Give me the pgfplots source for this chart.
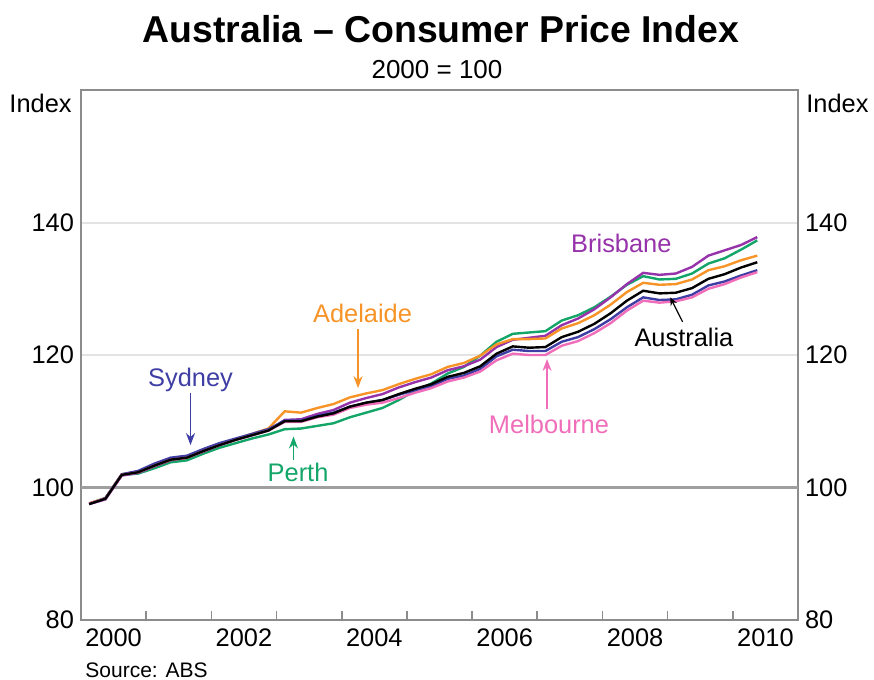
\documentclass[border=0pt]{standalone}
\usepackage{pgfplots}
\pgfplotsset{compat=1.18}
\usepackage{fontspec}
\setmainfont{Liberation Sans}
\usetikzlibrary{arrows.meta}

\definecolor{syd}{RGB}{62,62,165}
\definecolor{mel}{RGB}{240,110,185}
\definecolor{bri}{RGB}{150,50,170}
\definecolor{per}{RGB}{20,165,105}
\definecolor{ade}{RGB}{247,148,40}
\definecolor{frame}{RGB}{140,140,140}

\newcommand{\lab}{\fontsize{12.7pt}{14pt}\selectfont}

\begin{document}
\begin{tikzpicture}[x=1pt,y=1pt]
\useasboundingbox (-40.5,-30) rectangle (396.5,310);

\begin{axis}[
    at={(0,0)}, anchor=south west,
    scale only axis, width=358.5pt, height=265pt,
    xmin=2000, xmax=2011,
    ymin=80, ymax=160,
    /pgf/number format/assume math mode=true,
    axis line style={frame, line width=1pt},
    xtick={2001,...,2010},
    xticklabels={},
    xtick pos=bottom,
    tick align=inside,
    major tick length=4.5pt,
    x tick style={frame, line width=0.8pt},
    extra x ticks={2000.5,2002.5,2004.5,2006.5,2008.5,2010.5},
    extra x tick labels={2000,2002,2004,2006,2008,2010},
    extra x tick style={major tick length=0pt},
    xticklabel style={font=\lab, yshift=-1pt},
    ytick={80,100,120,140},
    y tick style={draw=none},
    yticklabel pos=left,
    yticklabel style={font=\lab},
    ymajorgrids,
    grid style={gray!22, line width=1pt},
    every axis plot/.append style={line width=1.2pt, mark=none},
]
\draw[gray!75, line width=1.3pt] (axis cs:2000,100) -- (axis cs:2011,100);

% Perth
\addplot[per] coordinates {
(2000.125,97.6)(2000.375,98.4)(2000.625,101.9)(2000.875,102.1)
(2001.125,102.9)(2001.375,103.8)(2001.625,104.1)(2001.875,105.1)
(2002.125,106.0)(2002.375,106.7)(2002.625,107.4)(2002.875,108.0)
(2003.125,108.8)(2003.375,108.9)(2003.625,109.3)(2003.875,109.7)
(2004.125,110.6)(2004.375,111.3)(2004.625,112.0)(2004.875,113.2)
(2005.125,114.6)(2005.375,115.7)(2005.625,117.2)(2005.875,118.2)
(2006.125,119.9)(2006.375,122.0)(2006.625,123.2)(2006.875,123.4)
(2007.125,123.6)(2007.375,125.2)(2007.625,126.0)(2007.875,127.2)
(2008.125,128.8)(2008.375,130.6)(2008.625,131.9)(2008.875,131.4)
(2009.125,131.5)(2009.375,132.3)(2009.625,133.8)(2009.875,134.6)
(2010.125,135.9)(2010.375,137.3)
};
% Brisbane
\addplot[bri] coordinates {
(2000.125,97.5)(2000.375,98.2)(2000.625,101.8)(2000.875,102.2)
(2001.125,103.2)(2001.375,104.1)(2001.625,104.5)(2001.875,105.4)
(2002.125,106.4)(2002.375,107.2)(2002.625,107.9)(2002.875,108.6)
(2003.125,110.2)(2003.375,110.3)(2003.625,111.1)(2003.875,111.7)
(2004.125,112.8)(2004.375,113.5)(2004.625,114.1)(2004.875,115.1)
(2005.125,115.9)(2005.375,116.6)(2005.625,117.7)(2005.875,118.3)
(2006.125,119.3)(2006.375,121.2)(2006.625,122.3)(2006.875,122.6)
(2007.125,122.9)(2007.375,124.5)(2007.625,125.5)(2007.875,126.9)
(2008.125,128.7)(2008.375,130.7)(2008.625,132.4)(2008.875,132.1)
(2009.125,132.3)(2009.375,133.3)(2009.625,135.0)(2009.875,135.8)
(2010.125,136.6)(2010.375,137.8)
};
% Adelaide
\addplot[ade] coordinates {
(2000.125,97.6)(2000.375,98.4)(2000.625,102.0)(2000.875,102.3)
(2001.125,103.3)(2001.375,104.2)(2001.625,104.5)(2001.875,105.5)
(2002.125,106.5)(2002.375,107.3)(2002.625,108.1)(2002.875,108.9)
(2003.125,111.5)(2003.375,111.3)(2003.625,112.0)(2003.875,112.6)
(2004.125,113.6)(2004.375,114.2)(2004.625,114.7)(2004.875,115.6)
(2005.125,116.4)(2005.375,117.1)(2005.625,118.2)(2005.875,118.8)
(2006.125,119.9)(2006.375,121.6)(2006.625,122.4)(2006.875,122.4)
(2007.125,122.5)(2007.375,124.0)(2007.625,124.8)(2007.875,126.0)
(2008.125,127.6)(2008.375,129.5)(2008.625,130.9)(2008.875,130.6)
(2009.125,130.7)(2009.375,131.4)(2009.625,132.8)(2009.875,133.4)
(2010.125,134.3)(2010.375,135.0)
};
% Sydney
\addplot[syd] coordinates {
(2000.125,97.5)(2000.375,98.4)(2000.625,102.0)(2000.875,102.5)
(2001.125,103.6)(2001.375,104.5)(2001.625,104.8)(2001.875,105.8)
(2002.125,106.7)(2002.375,107.4)(2002.625,108.1)(2002.875,108.8)
(2003.125,110.1)(2003.375,110.1)(2003.625,110.8)(2003.875,111.3)
(2004.125,112.2)(2004.375,112.8)(2004.625,113.2)(2004.875,114.0)
(2005.125,114.7)(2005.375,115.3)(2005.625,116.4)(2005.875,116.9)
(2006.125,117.9)(2006.375,119.8)(2006.625,120.8)(2006.875,120.6)
(2007.125,120.6)(2007.375,122.0)(2007.625,122.7)(2007.875,123.9)
(2008.125,125.4)(2008.375,127.2)(2008.625,128.7)(2008.875,128.3)
(2009.125,128.4)(2009.375,129.1)(2009.625,130.5)(2009.875,131.1)
(2010.125,132.0)(2010.375,132.8)
};
% Melbourne
\addplot[mel] coordinates {
(2000.125,97.6)(2000.375,98.3)(2000.625,101.9)(2000.875,102.3)
(2001.125,103.3)(2001.375,104.2)(2001.625,104.5)(2001.875,105.5)
(2002.125,106.4)(2002.375,107.2)(2002.625,107.9)(2002.875,108.6)
(2003.125,109.9)(2003.375,109.9)(2003.625,110.6)(2003.875,111.0)
(2004.125,112.0)(2004.375,112.5)(2004.625,112.8)(2004.875,113.5)
(2005.125,114.3)(2005.375,115.0)(2005.625,116.0)(2005.875,116.6)
(2006.125,117.5)(2006.375,119.2)(2006.625,120.2)(2006.875,120.0)
(2007.125,120.0)(2007.375,121.4)(2007.625,122.1)(2007.875,123.3)
(2008.125,124.8)(2008.375,126.7)(2008.625,128.2)(2008.875,127.9)
(2009.125,128.1)(2009.375,128.7)(2009.625,130.0)(2009.875,130.7)
(2010.125,131.7)(2010.375,132.5)
};
% Australia
\addplot[black] coordinates {
(2000.125,97.5)(2000.375,98.3)(2000.625,101.9)(2000.875,102.3)
(2001.125,103.3)(2001.375,104.2)(2001.625,104.5)(2001.875,105.5)
(2002.125,106.4)(2002.375,107.2)(2002.625,107.9)(2002.875,108.6)
(2003.125,110.0)(2003.375,110.0)(2003.625,110.7)(2003.875,111.2)
(2004.125,112.2)(2004.375,112.8)(2004.625,113.2)(2004.875,114.1)
(2005.125,114.9)(2005.375,115.6)(2005.625,116.7)(2005.875,117.3)
(2006.125,118.3)(2006.375,120.2)(2006.625,121.3)(2006.875,121.1)
(2007.125,121.2)(2007.375,122.7)(2007.625,123.5)(2007.875,124.7)
(2008.125,126.3)(2008.375,128.2)(2008.625,129.7)(2008.875,129.3)
(2009.125,129.4)(2009.375,130.1)(2009.625,131.5)(2009.875,132.2)
(2010.125,133.2)(2010.375,134.0)
};

% labels and arrows
\tikzset{arr/.style={line width=0.7pt, -{Stealth[length=6pt,width=4.5pt]}}}
\node[syd, font=\lab] at (axis cs:2001.68,116.3) {Sydney};
\draw[syd, arr] (axis cs:2001.68,114.2) -- (axis cs:2001.68,106.4);
\node[ade, font=\lab] at (axis cs:2004.32,126.3) {Adelaide};
\draw[ade, arr] (axis cs:2004.25,124.0) -- (axis cs:2004.25,115.0);
\node[per, font=\lab] at (axis cs:2003.33,102.3) {Perth};
\draw[per, arr] (axis cs:2003.26,104.1) -- (axis cs:2003.26,107.7);
\node[mel, font=\lab] at (axis cs:2007.18,109.5) {Melbourne};
\draw[mel, arr] (axis cs:2007.15,111.9) -- (axis cs:2007.15,119.4);
\node[bri, font=\lab] at (axis cs:2008.29,136.8) {Brisbane};
\node[black, font=\lab] at (axis cs:2009.25,122.7) {Australia};
\draw[black, line width=0.6pt, -{Stealth[length=4pt,width=3.5pt]}] (axis cs:2009.23,125.0) -- (axis cs:2009.04,128.7);
\end{axis}

\begin{axis}[
    at={(0,0)}, anchor=south west,
    scale only axis, width=358.5pt, height=265pt,
    xmin=2000, xmax=2011,
    ymin=80, ymax=160,
    /pgf/number format/assume math mode=true,
    hide x axis,
    axis y line*=right,
    axis line style={draw=none},
    ytick={80,100,120,140},
    y tick style={draw=none},
    yticklabel style={font=\lab},
]
\end{axis}

\node[font=\fontsize{18.7pt}{21pt}\selectfont\bfseries] at (180,295.5) {Australia -- Consumer Price Index};
\node[font=\fontsize{13pt}{15pt}\selectfont] at (178,275) {2000 = 100};
\node[font=\lab, anchor=east, inner sep=0pt] at (-4.5,258.5) {Index};
\node[font=\lab, anchor=west, inner sep=0pt] at (362.5,258.5) {Index};
\node[font=\fontsize{10.5pt}{12pt}\selectfont, anchor=west, inner sep=0pt] at (2,-25) {Source: ABS};
\end{tikzpicture}
\end{document}
